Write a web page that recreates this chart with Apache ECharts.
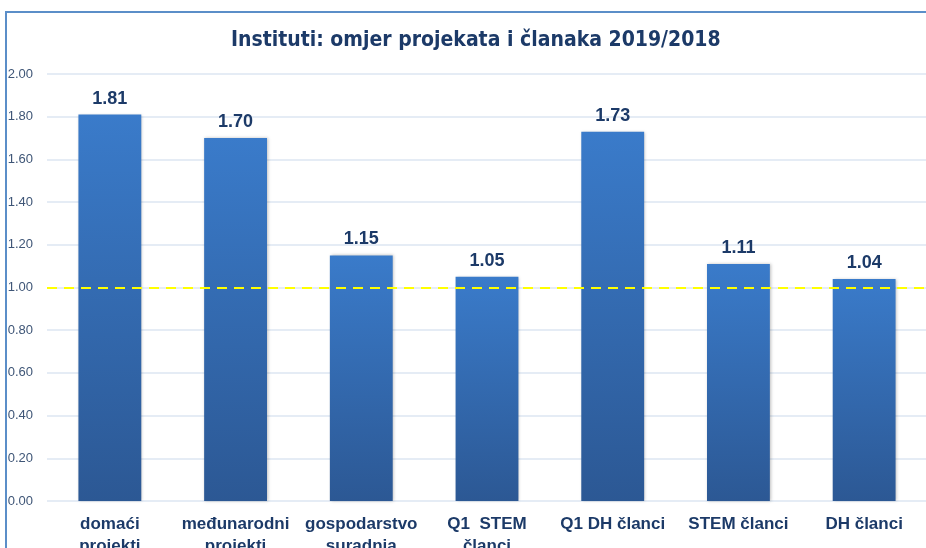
<!DOCTYPE html>
<html>
<head>
<meta charset="utf-8">
<script src="https://cdn.jsdelivr.net/npm/echarts@6/dist/echarts.min.js"></script>
<style>
  html, body { margin: 0; padding: 0; overflow: hidden; background: #fff; }
  #frame { position: absolute; left: 5px; top: 11px; width: 940px; height: 560px; z-index: 2;
           pointer-events: none;
           border-left: 2px solid #5B8EC8; border-top: 2px solid #5B8EC8; }
  #chart { position: absolute; left: 0; top: 0; width: 940px; height: 575px; }
</style>
</head>
<body>
<div id="frame"></div>
<div id="chart"></div>
<script>
// kategorije i omjeri 2019/2018
const categories = ['domaći\nprojekti', 'međunarodni\nprojekti', 'gospodarstvo\nsuradnja',
                    'Q1  STEM\nčlanci', 'Q1 DH članci', 'STEM članci', 'DH članci'];
const ratios = [1.81, 1.70, 1.15, 1.05, 1.73, 1.11, 1.04];
const yTicks = [0, 0.2, 0.4, 0.6, 0.8, 1.0, 1.2, 1.4, 1.6, 1.8, 2.0];
const baseline = 1.0;

const chart = echarts.init(document.getElementById('chart'));

const option = {
  animation: false,
  backgroundColor: 'transparent',
  title: {
    text: 'Instituti: omjer projekata i članaka 2019/2018',
    left: 226,
    top: 25,
    textStyle: {
      fontFamily: 'DejaVu Sans Condensed, Liberation Sans Narrow, sans-serif',
      fontSize: 21,
      fontWeight: 'bold',
      color: '#1C3A68'
    }
  },
  grid: { left: 47, top: 74, width: 880, height: 427 },
  xAxis: {
    type: 'category',
    data: categories,
    axisLine: { show: false },
    axisTick: { show: false },
    axisLabel: {
      interval: 0,
      margin: 12,
      fontFamily: 'Liberation Sans, Arial, sans-serif',
      fontSize: 17,
      fontWeight: 'bold',
      lineHeight: 22,
      color: '#1C3A68'
    }
  },
  yAxis: {
    type: 'value',
    min: yTicks[0],
    max: yTicks[yTicks.length - 1],
    interval: 0.2,
    axisLine: { show: false },
    axisTick: { show: false },
    splitLine: { lineStyle: { color: '#DCE6F2', width: 1.5 } },
    axisLabel: {
      margin: 14,
      fontFamily: 'Liberation Sans, Arial, sans-serif',
      fontSize: 13,
      color: '#3F5677',
      formatter: v => v.toFixed(2)
    }
  },
  series: [{
    type: 'bar',
    data: ratios,
    barWidth: '50%',
    itemStyle: {
      color: new echarts.graphic.LinearGradient(0, 0, 0, 1, [
        { offset: 0, color: '#3A7BCA' },
        { offset: 1, color: '#2C5894' }
      ]),
      shadowColor: 'rgba(0,0,0,0.25)',
      shadowBlur: 3,
      shadowOffsetX: 1
    },
    label: {
      show: true,
      position: 'top',
      distance: 7,
      formatter: p => p.value.toFixed(2),
      fontFamily: 'Liberation Sans, Arial, sans-serif',
      fontSize: 18,
      fontWeight: 'bold',
      color: '#1C3A68'
    },
    markLine: {
      silent: true,
      symbol: 'none',
      label: { show: false },
      lineStyle: { color: '#FFFF00', type: [10, 7], width: 2 },
      data: [{ yAxis: baseline }]
    }
  }]
};

chart.setOption(option);
</script>
</body>
</html>
